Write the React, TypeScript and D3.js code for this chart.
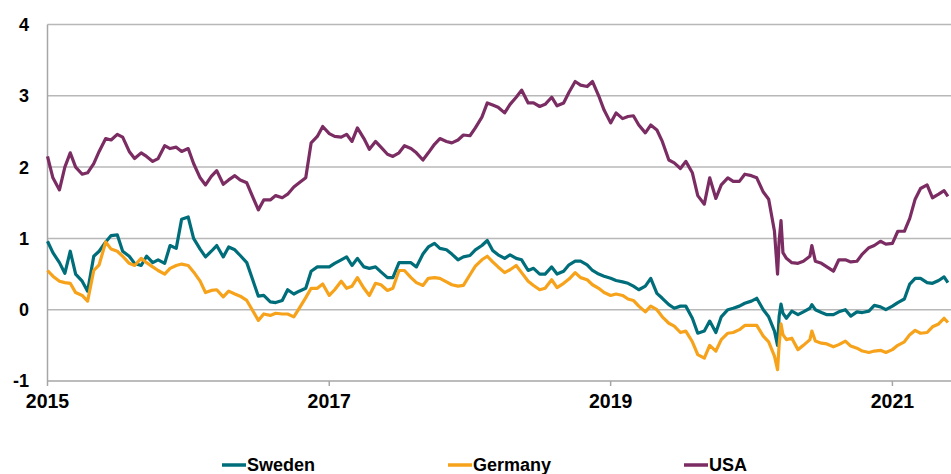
import React from "react";
import * as d3 from "d3";

const dates: string[] = [
  "2015-01-01","2015-01-15","2015-02-01","2015-02-15","2015-03-01","2015-03-15","2015-04-01","2015-04-15","2015-05-01","2015-05-15","2015-06-01","2015-06-15","2015-07-01","2015-07-15","2015-08-01","2015-08-15","2015-09-01","2015-09-15","2015-10-01","2015-10-15","2015-11-01","2015-11-15","2015-12-01","2015-12-15",
  "2016-01-01","2016-01-15","2016-02-01","2016-02-15","2016-03-01","2016-03-15","2016-04-01","2016-04-15","2016-05-01","2016-05-15","2016-06-01","2016-06-15","2016-07-01","2016-07-15","2016-08-01","2016-08-15","2016-09-01","2016-09-15","2016-10-01","2016-10-15","2016-11-01","2016-11-15","2016-12-01","2016-12-15",
  "2017-01-01","2017-01-15","2017-02-01","2017-02-15","2017-03-01","2017-03-15","2017-04-01","2017-04-15","2017-05-01","2017-05-15","2017-06-01","2017-06-15","2017-07-01","2017-07-15","2017-08-01","2017-08-15","2017-09-01","2017-09-15","2017-10-01","2017-10-15","2017-11-01","2017-11-15","2017-12-01","2017-12-15",
  "2018-01-01","2018-01-15","2018-02-01","2018-02-15","2018-03-01","2018-03-15","2018-04-01","2018-04-15","2018-05-01","2018-05-15","2018-06-01","2018-06-15","2018-07-01","2018-07-15","2018-08-01","2018-08-15","2018-09-01","2018-09-15","2018-10-01","2018-10-15","2018-11-01","2018-11-15","2018-12-01","2018-12-15",
  "2019-01-01","2019-01-15","2019-02-01","2019-02-15","2019-03-01","2019-03-15","2019-04-01","2019-04-15","2019-05-01","2019-05-15","2019-06-01","2019-06-15","2019-07-01","2019-07-15","2019-08-01","2019-08-15","2019-09-01","2019-09-15","2019-10-01","2019-10-15","2019-11-01","2019-11-15","2019-12-01","2019-12-15",
  "2020-01-01","2020-01-15","2020-02-01","2020-02-15","2020-03-01","2020-03-09","2020-03-13","2020-03-18","2020-03-23","2020-04-01","2020-04-15","2020-05-01","2020-05-15","2020-06-01","2020-06-06","2020-06-15","2020-07-01","2020-07-15","2020-08-01","2020-08-15","2020-09-01","2020-09-15","2020-10-01","2020-10-15","2020-11-01","2020-11-15","2020-12-01","2020-12-15",
  "2021-01-01","2021-01-15","2021-02-01","2021-02-15","2021-03-01","2021-03-15","2021-04-01","2021-04-15","2021-05-01","2021-05-15","2021-05-25",
];

const sweden: number[] = [
  0.96,0.80,0.66,0.51,0.82,0.5,0.40,0.26,0.75,0.82,0.95,1.04,1.05,0.82,0.75,0.65,0.62,0.75,0.66,0.70,0.65,0.9,0.86,1.27,
  1.3,1.0,0.85,0.74,0.82,0.9,0.74,0.88,0.84,0.76,0.66,0.44,0.19,0.2,0.11,0.1,0.13,0.28,0.22,0.26,0.3,0.54,0.6,0.6,
  0.6,0.65,0.7,0.74,0.62,0.72,0.6,0.58,0.6,0.53,0.45,0.45,0.66,0.66,0.66,0.6,0.78,0.88,0.93,0.86,0.84,0.78,0.7,0.74,
  0.76,0.84,0.9,0.97,0.83,0.77,0.72,0.77,0.72,0.7,0.55,0.58,0.5,0.5,0.6,0.5,0.54,0.63,0.68,0.68,0.63,0.55,0.5,0.47,
  0.44,0.41,0.39,0.37,0.33,0.28,0.33,0.44,0.23,0.16,0.07,0.02,0.05,0.05,-0.12,-0.33,-0.3,-0.16,-0.32,-0.1,0.0,0.02,0.05,0.09,
  0.12,0.16,0.0,-0.1,-0.3,-0.5,-0.1,0.08,-0.05,-0.12,-0.02,-0.07,-0.03,0.02,0.07,0.0,-0.04,-0.07,-0.07,-0.03,0.0,-0.09,-0.03,-0.04,-0.02,0.06,0.04,0.0,
  0.05,0.1,0.15,0.36,0.44,0.44,0.38,0.37,0.41,0.46,0.38,
];

const germany: number[] = [
  0.55,0.47,0.40,0.38,0.37,0.24,0.2,0.12,0.55,0.63,0.95,0.85,0.82,0.75,0.65,0.62,0.72,0.66,0.6,0.55,0.5,0.58,0.62,0.64,
  0.62,0.53,0.4,0.24,0.27,0.28,0.18,0.26,0.22,0.19,0.13,0.0,-0.15,-0.06,-0.08,-0.05,-0.06,-0.06,-0.1,0.02,0.17,0.3,0.3,0.36,
  0.2,0.28,0.4,0.3,0.33,0.45,0.3,0.2,0.37,0.35,0.27,0.3,0.55,0.55,0.45,0.38,0.34,0.44,0.45,0.44,0.39,0.35,0.33,0.34,
  0.49,0.61,0.7,0.75,0.67,0.6,0.52,0.56,0.62,0.52,0.4,0.34,0.28,0.3,0.42,0.31,0.37,0.43,0.52,0.45,0.42,0.35,0.3,0.24,
  0.2,0.22,0.2,0.15,0.13,0.05,-0.03,0.05,0.0,-0.1,-0.19,-0.23,-0.32,-0.3,-0.45,-0.63,-0.68,-0.5,-0.58,-0.42,-0.33,-0.32,-0.28,-0.22,
  -0.22,-0.22,-0.37,-0.45,-0.65,-0.84,-0.5,-0.2,-0.35,-0.42,-0.4,-0.56,-0.5,-0.42,-0.3,-0.44,-0.47,-0.48,-0.52,-0.49,-0.44,-0.51,-0.54,-0.58,-0.6,-0.58,-0.57,-0.6,
  -0.56,-0.5,-0.45,-0.35,-0.29,-0.33,-0.32,-0.24,-0.2,-0.12,-0.18,
];

const usa: number[] = [
  2.15,1.85,1.68,2.0,2.2,2.0,1.9,1.92,2.05,2.22,2.4,2.38,2.46,2.42,2.22,2.12,2.2,2.15,2.08,2.12,2.3,2.26,2.28,2.22,
  2.26,2.05,1.85,1.75,1.87,1.95,1.76,1.82,1.88,1.82,1.78,1.6,1.4,1.54,1.54,1.6,1.57,1.62,1.72,1.78,1.85,2.34,2.43,2.57,
  2.47,2.43,2.42,2.46,2.36,2.55,2.4,2.25,2.36,2.28,2.18,2.15,2.2,2.3,2.26,2.2,2.1,2.2,2.32,2.4,2.36,2.34,2.38,2.45,
  2.44,2.55,2.7,2.9,2.87,2.84,2.76,2.88,2.98,3.08,2.9,2.9,2.85,2.88,2.98,2.86,2.9,3.05,3.2,3.15,3.13,3.2,3.0,2.8,
  2.62,2.76,2.68,2.71,2.72,2.59,2.48,2.59,2.52,2.36,2.1,2.06,1.98,2.08,1.92,1.6,1.48,1.85,1.56,1.75,1.85,1.8,1.8,1.9,
  1.88,1.85,1.65,1.55,1.1,0.5,0.95,1.25,0.8,0.72,0.66,0.65,0.68,0.75,0.9,0.68,0.65,0.6,0.54,0.7,0.7,0.67,0.68,0.78,0.87,0.9,0.96,0.92,
  0.93,1.1,1.1,1.28,1.55,1.7,1.75,1.57,1.62,1.67,1.59,
];

const seriesNames: string[] = ["Sweden", "Germany", "USA"];
const seriesColors: string[] = ["#006e7a", "#f7a21b", "#7b2d63"];
const yTicks: number[] = [-1, 0, 1, 2, 3, 4];
const xTickYears: number[] = [2015, 2017, 2019, 2021];

const W = 951;
const H = 474;
const FONT = "'Liberation Sans', Arial, sans-serif";

export default function App() {
  const parse = d3.timeParse("%Y-%m-%d");
  const parsed = dates.map((d) => parse(d) as Date);
  const x = d3
    .scaleTime()
    .domain([new Date(2015, 0, 1), new Date(2021, 5, 2)])
    .range([47.5, 951]);
  const y = d3.scaleLinear().domain([-1, 4]).range([381, 24.5]);
  const allSeries = [sweden, germany, usa];
  const line = d3
    .line<[Date, number]>()
    .x((d) => x(d[0]))
    .y((d) => y(d[1]));

  const legendX = [222, 448, 684];

  return (
    <svg
      width={W}
      height={H}
      style={{ position: "absolute", left: 0, top: 0, background: "#fff" }}
      fontFamily={FONT}
    >
      {yTicks.map((t) => (
        <g key={t}>
          {t > -1 && (
            <line x1={x.range()[0]} x2={W} y1={y(t)} y2={y(t)} stroke="#b8b8b8" strokeWidth={1.5} />
          )}
          <text
            x={29}
            y={y(t)}
            dy="0.36em"
            textAnchor="end"
            fontSize={18}
            fontWeight="bold"
            fill="#000"
          >
            {t}
          </text>
        </g>
      ))}
      <line x1={47.5} x2={47.5} y1={y(4)} y2={y(-1)} stroke="#a6a6a6" strokeWidth={1.5} />
      <line x1={47.5} x2={W} y1={y(-1)} y2={y(-1)} stroke="#a6a6a6" strokeWidth={1.5} />
      {xTickYears.map((yr) => {
        const px = x(new Date(yr, 0, 1));
        return (
          <g key={yr}>
            <line x1={px} x2={px} y1={y(-1)} y2={y(-1) + 5} stroke="#a6a6a6" strokeWidth={1.5} />
            <text x={px} y={407.5} textAnchor="middle" fontSize={19.5} fontWeight="bold" fill="#000">
              {yr}
            </text>
          </g>
        );
      })}
      {allSeries.map((vals, si) => {
        const pts: [Date, number][] = vals.map((v, i) => [parsed[i], v]);
        return (
          <path
            key={si}
            d={line(pts) || ""}
            fill="none"
            stroke={seriesColors[si]}
            strokeWidth={3.2}
            strokeLinejoin="round"
          />
        );
      })}
      {seriesNames.map((n, i) => (
        <g key={n}>
          <line x1={legendX[i]} x2={legendX[i] + 24} y1={465} y2={465} stroke={seriesColors[i]} strokeWidth={3.5} />
          <text x={legendX[i] + 25} y={471} fontSize={18} fontWeight="bold" fill="#000">
            {n}
          </text>
        </g>
      ))}
    </svg>
  );
}
